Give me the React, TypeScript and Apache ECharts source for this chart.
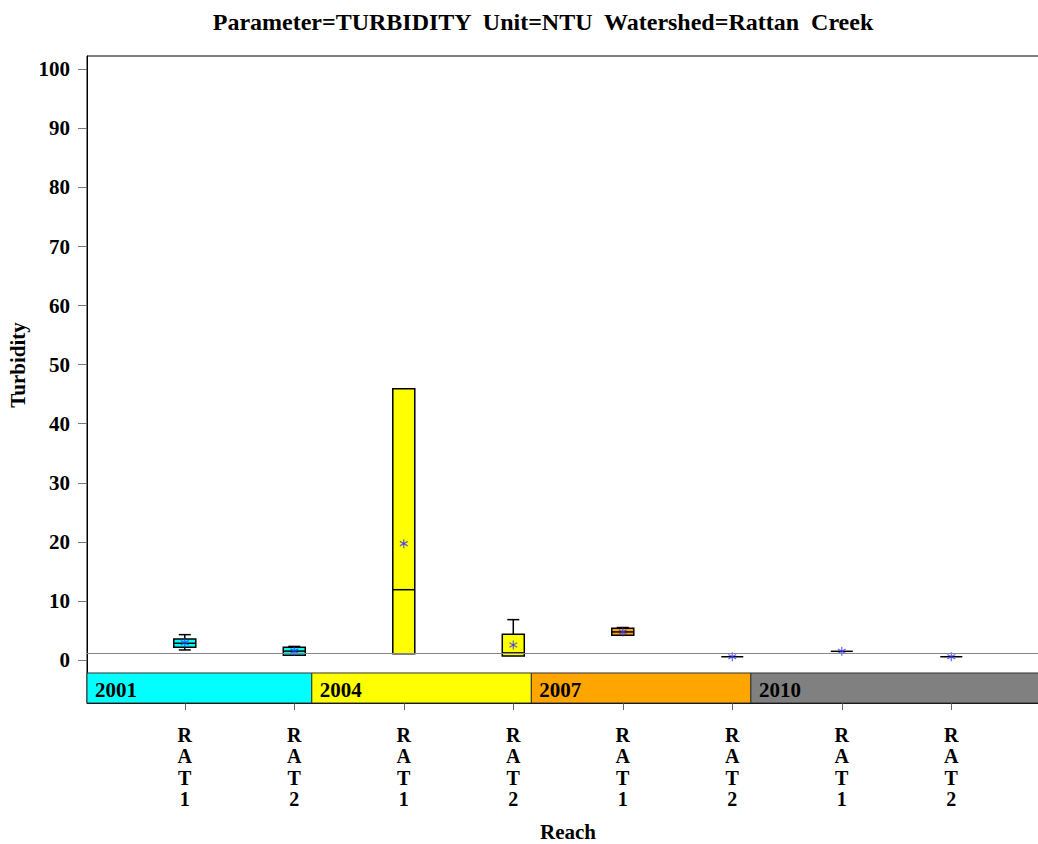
import React, { useEffect, useRef } from "react";
import * as echarts from "echarts";

// ---- data ----
const reaches = ["RAT1", "RAT2", "RAT1", "RAT2", "RAT1", "RAT2", "RAT1", "RAT2"];
const yearOfBox = [0, 0, 1, 1, 2, 2, 3, 3];
const years = ["2001", "2004", "2007", "2010"];
const yearBandStart = [-0.893, 1.16, 3.165, 5.17];
const yearBandEnd = [1.16, 3.165, 5.17, 7.9];
const boxMin = [1.7, 0.8, 1.07, 0.68, 4.2, 0.55, 1.47, 0.55];
const boxQ1 = [2.15, 0.8, 1.07, 0.68, 4.2, 0.55, 1.47, 0.55];
const boxMedian = [2.83, 1.5, 11.9, 1.2, 4.75, 0.55, 1.47, 0.55];
const boxQ3 = [3.56, 2.15, 45.9, 4.35, 5.37, 0.55, 1.47, 0.55];
const boxMax = [4.29, 2.3, 45.9, 6.83, 5.5, 0.55, 1.47, 0.55];
const boxMean = [2.93, 1.5, 19.7, 2.54, 4.75, 0.55, 1.47, 0.55];
const referenceValue = 1.1;
const yTicks = [0, 10, 20, 30, 40, 50, 60, 70, 80, 90, 100];

const yearColors = ["#00FFFF", "#FFFF00", "#FFA500", "#808080"];
const FONT = '"Liberation Serif", "Times New Roman", serif';
const Y_MIN = -7.28;
const Y_MAX = 102.25;
const BAND_TOP = -2.2;
const X_MIN = -0.893;
const GRID_W = 960;
const PX_PER_CAT = 109.5;

export default function App() {
  const ref = useRef<HTMLDivElement>(null);
  useEffect(() => {
    if (!ref.current) return;
    const chart = echarts.init(ref.current, undefined, { renderer: "svg" });

    const boxData = reaches.map((_, i) => [
      i,
      boxMin[i],
      boxQ1[i],
      boxMedian[i],
      boxQ3[i],
      boxMax[i],
      boxMean[i],
      yearOfBox[i],
    ]);
    const bandData = years.map((_, i) => [yearBandStart[i], yearBandEnd[i], i]);

    const option: any = {
      animation: false,
      backgroundColor: "#ffffff",
      grid: {
        left: 87,
        top: 56,
        width: GRID_W,
        height: 647,
        show: true,
        borderColor: "#000",
        borderWidth: 1,
        backgroundColor: "transparent",
      },
      xAxis: {
        type: "value",
        min: X_MIN,
        max: X_MIN + GRID_W / PX_PER_CAT,
        splitLine: { show: false },
        axisLine: { show: true, onZero: false, lineStyle: { color: "#000", width: 1 } },
        axisTick: {
          show: true,
          customValues: reaches.map((_, i) => i),
          length: 7,
          lineStyle: { color: "#666" },
        },
        axisLabel: {
          customValues: reaches.map((_, i) => i),
          formatter: (v: number) => {
            const r = reaches[Math.round(v)];
            return r ? r.split("").join("\n") : "";
          },
          fontFamily: FONT,
          fontWeight: "bold",
          fontSize: 20,
          lineHeight: 21.5,
          color: "#000",
          margin: 21,
        },
      },
      yAxis: {
        type: "value",
        min: Y_MIN,
        max: Y_MAX,
        splitLine: { show: false },
        axisLine: { show: true, onZero: false, lineStyle: { color: "#000" } },
        axisTick: {
          show: true,
          customValues: yTicks,
          length: 9,
          lineStyle: { color: "#777" },
        },
        axisLabel: {
          customValues: yTicks,
          fontFamily: FONT,
          fontWeight: "bold",
          fontSize: 21,
          color: "#000",
          margin: 17,
        },
      },
      graphic: [
        {
          type: "text",
          x: 543,
          y: 22,
          style: {
            text: "Parameter=TURBIDITY  Unit=NTU  Watershed=Rattan  Creek",
            font: `bold 24px ${FONT}`,
            fill: "#000",
            align: "center",
            verticalAlign: "middle",
          },
        },
        {
          type: "text",
          x: 568,
          y: 832,
          style: {
            text: "Reach",
            font: `bold 21px ${FONT}`,
            fill: "#000",
            align: "center",
            verticalAlign: "middle",
          },
        },
        {
          type: "text",
          x: 18,
          y: 365,
          rotation: Math.PI / 2,
          style: {
            text: "Turbidity",
            font: `bold 21px ${FONT}`,
            fill: "#000",
            align: "center",
            verticalAlign: "middle",
          },
        },
      ],
      series: [
        {
          type: "custom",
          z: 1,
          data: bandData,
          encode: { x: [0, 1] },
          renderItem: (params: any, api: any) => {
            const s = api.value(0);
            const e = api.value(1);
            const yi = api.value(2);
            const p0 = api.coord([s, BAND_TOP]);
            const p1 = api.coord([e, Y_MIN]);
            return {
              type: "group",
              children: [
                {
                  type: "rect",
                  shape: { x: p0[0], y: p0[1], width: p1[0] - p0[0], height: p1[1] - p0[1] },
                  style: { fill: yearColors[yi], stroke: "#333", lineWidth: 1 },
                },
                {
                  type: "text",
                  style: {
                    text: years[yi],
                    x: p0[0] + 8,
                    y: (p0[1] + p1[1]) / 2 + 2,
                    font: `bold 21px ${FONT}`,
                    fill: "#000",
                    align: "left",
                    verticalAlign: "middle",
                  },
                },
              ],
            };
          },
          markLine: {
            silent: true,
            symbol: "none",
            label: { show: false },
            lineStyle: { color: "#888", type: "solid", width: 1 },
            data: [{ yAxis: referenceValue }],
          },
        },
        {
          type: "custom",
          z: 3,
          data: boxData,
          encode: { x: 0, y: [1, 2, 3, 4, 5] },
          renderItem: (params: any, api: any) => {
            const x = api.value(0);
            const vMin = api.value(1);
            const vQ1 = api.value(2);
            const vMed = api.value(3);
            const vQ3 = api.value(4);
            const vMax = api.value(5);
            const vMean = api.value(6);
            const yi = api.value(7);
            const c = api.coord([x, vMed]);
            const cx = c[0];
            const halfW = 11;
            const capW = 6;
            const yMin = api.coord([x, vMin])[1];
            const yQ1 = api.coord([x, vQ1])[1];
            const yMed = c[1];
            const yQ3 = api.coord([x, vQ3])[1];
            const yMax = api.coord([x, vMax])[1];
            const yMean = api.coord([x, vMean])[1];
            const line = { stroke: "#000", lineWidth: 1.5 };
            const children: any[] = [];
            if (yMax < yQ3 - 0.5) {
              children.push({ type: "line", shape: { x1: cx, y1: yQ3, x2: cx, y2: yMax }, style: line });
              children.push({ type: "line", shape: { x1: cx - capW, y1: yMax, x2: cx + capW, y2: yMax }, style: line });
            }
            if (yMin > yQ1 + 0.5) {
              children.push({ type: "line", shape: { x1: cx, y1: yQ1, x2: cx, y2: yMin }, style: line });
              children.push({ type: "line", shape: { x1: cx - capW, y1: yMin, x2: cx + capW, y2: yMin }, style: line });
            }
            if (yQ1 - yQ3 > 0.5) {
              children.push({
                type: "rect",
                shape: { x: cx - halfW, y: yQ3, width: halfW * 2, height: yQ1 - yQ3 },
                style: { fill: yearColors[yi], stroke: "#000", lineWidth: 1.5 },
              });
            }
            children.push({ type: "line", shape: { x1: cx - halfW, y1: yMed, x2: cx + halfW, y2: yMed }, style: line });
            // mean asterisk
            const r = 4.5;
            const star = { stroke: "rgba(50,50,255,0.75)", lineWidth: 1.2 };
            children.push({ type: "line", shape: { x1: cx, y1: yMean - r, x2: cx, y2: yMean + r }, style: star });
            const dx = r * Math.cos(Math.PI / 6);
            const dy = r * Math.sin(Math.PI / 6);
            children.push({ type: "line", shape: { x1: cx - dx, y1: yMean - dy, x2: cx + dx, y2: yMean + dy }, style: star });
            children.push({ type: "line", shape: { x1: cx - dx, y1: yMean + dy, x2: cx + dx, y2: yMean - dy }, style: star });
            return { type: "group", children };
          },
        },
      ],
    };
    chart.setOption(option);
    return () => chart.dispose();
  }, []);

  return (
    <div
      ref={ref}
      style={{ position: "fixed", left: 0, top: 0, width: 1050, height: 844, background: "#fff" }}
    />
  );
}
